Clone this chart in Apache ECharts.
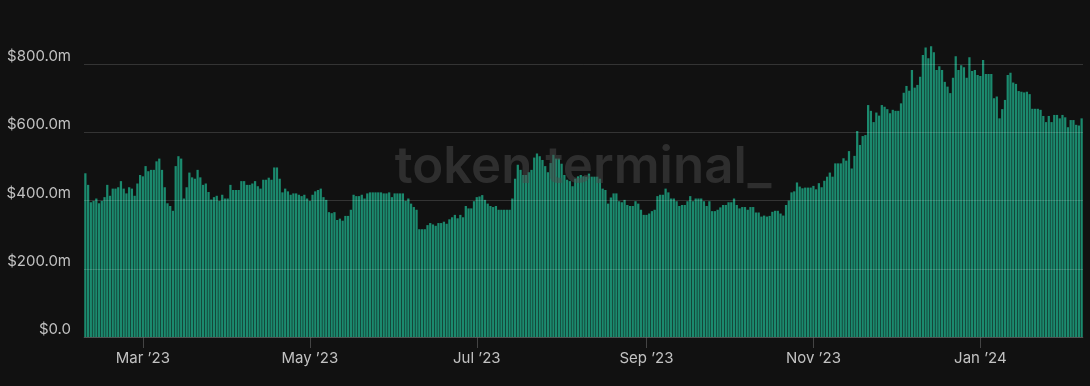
<!DOCTYPE html>
<html><head><meta charset="utf-8">
<script src="https://cdn.jsdelivr.net/npm/echarts@6/dist/echarts.min.js"></script>
<style>html,body{margin:0;padding:0;background:#111111;} #c{width:1090px;height:386px;}</style>
</head><body><div id="c"></div>
<script>
// Daily revenue ($m), one bar per day starting 2023-02-08
const startDate = '2023-02-08';
const revenue = [
480,446,395,399,406,392,399,410,446,414,
435,435,439,457,435,421,439,435,414,450,
475,471,501,486,490,490,515,523,490,439,
392,384,370,501,530,523,406,439,482,468,
464,490,468,446,450,425,403,410,414,399,
417,406,406,446,431,431,431,457,457,446,446,
450,457,442,435,461,461,467,461,497,497,
464,424,435,427,417,421,421,417,413,417,
406,399,417,427,431,435,410,402,366,363,
366,343,347,341,355,355,373,417,413,413,
417,406,421,424,424,424,424,424,421,421,
424,410,421,421,421,421,399,406,391,381,373,
316,316,316,328,334,330,326,334,334,338,
332,345,351,358,348,358,351,384,377,377,
398,410,412,416,402,391,384,381,384,373,
373,373,373,373,406,464,505,490,475,475,
483,490,526,538,530,519,501,483,510,534,
523,523,508,475,461,457,442,464,471,475,471,
470,479,470,470,470,464,435,431,391,409,
421,421,398,395,402,387,384,384,398,391,
373,358,358,362,369,373,413,417,417,435,
424,406,406,398,384,387,387,398,413,398,
406,406,406,398,384,398,369,369,373,380,
387,387,395,395,406,387,377,381,381,373,381,
381,365,365,353,356,353,355,367,370,370,
362,356,387,400,424,427,453,441,436,438,
438,438,443,433,451,439,458,470,482,470,
509,509,509,524,517,545,494,531,604,563,
589,592,680,663,630,658,649,680,675,668,
656,666,663,663,685,716,736,722,783,731,739,
763,827,849,817,852,835,783,794,783,748,
734,715,760,823,783,797,791,760,820,780,
783,768,765,812,771,771,771,700,705,641,
668,695,768,775,746,742,721,719,717,719,
712,669,669,669,666,648,630,648,630,651,
651,641,651,644,615,636,636,622,620,641
];
const yTicks = [0, 200, 400, 600, 800];
const monthNames = ['Jan','Feb','Mar','Apr','May','Jun','Jul','Aug','Sep','Oct','Nov','Dec'];
const labelMonths = [0, 2, 4, 6, 8, 10]; // Jan, Mar, May, Jul, Sep, Nov
const watermark = 'token terminal_';

const dates = [];
const d0 = new Date(startDate + 'T00:00:00Z');
for (let i = 0; i < revenue.length; i++) {
  dates.push(new Date(d0.getTime() + i * 86400000).toISOString().slice(0, 10));
}
function isLabelDay(v) {
  return v.slice(8) === '01' && labelMonths.includes(+v.slice(5, 7) - 1);
}

const chart = echarts.init(document.getElementById('c'), null, {renderer: 'canvas'});
chart.setOption({
  backgroundColor: '#111111',
  animation: false,
  grid: {left: 84, right: 7, top: 30, bottom: 49, containLabel: false},
  xAxis: {
    type: 'category',
    data: dates,
    boundaryGap: true,
    axisLine: {show: true, lineStyle: {color: '#333333', width: 1}},
    axisTick: {show: true, alignWithLabel: true, length: 11, interval: (i, v) => isLabelDay(v), lineStyle: {color: '#444444'}},
    axisLabel: {
      interval: (i, v) => isLabelDay(v),
      formatter: v => monthNames[+v.slice(5, 7) - 1] + ' \u2019' + v.slice(2, 4),
      color: '#c2c2c2', fontFamily: 'Inter', fontSize: 15, margin: 14
    },
    splitLine: {show: false}
  },
  yAxis: {
    type: 'value', min: yTicks[0], max: 900, interval: 200, z: 5,
    axisLine: {show: false}, axisTick: {show: false},
    splitLine: {show: true, showMaxLine: false, lineStyle: {color: 'rgba(255,255,255,0.15)', width: 1}},
    axisLabel: {
      showMaxLabel: false,
      formatter: v => v === 0 ? '$0.0' : '$' + v.toFixed(1) + 'm',
      color: '#c2c2c2', fontFamily: 'Inter', fontSize: 15, margin: 13, verticalAlign: 'bottom'
    }
  },
  series: [{
    type: 'bar', data: revenue, barCategoryGap: '18%',
    itemStyle: {color: '#1b8a6e'}
  }],
  graphic: [{
    type: 'text', x: 583, y: 168, z: 100, silent: true,
    style: {text: watermark, fill: 'rgba(75,75,75,0.5)', font: '600 51px Inter', align: 'center', verticalAlign: 'middle', textAlign: 'center', textVerticalAlign: 'middle'}
  }]
});
</script>
</body></html>
